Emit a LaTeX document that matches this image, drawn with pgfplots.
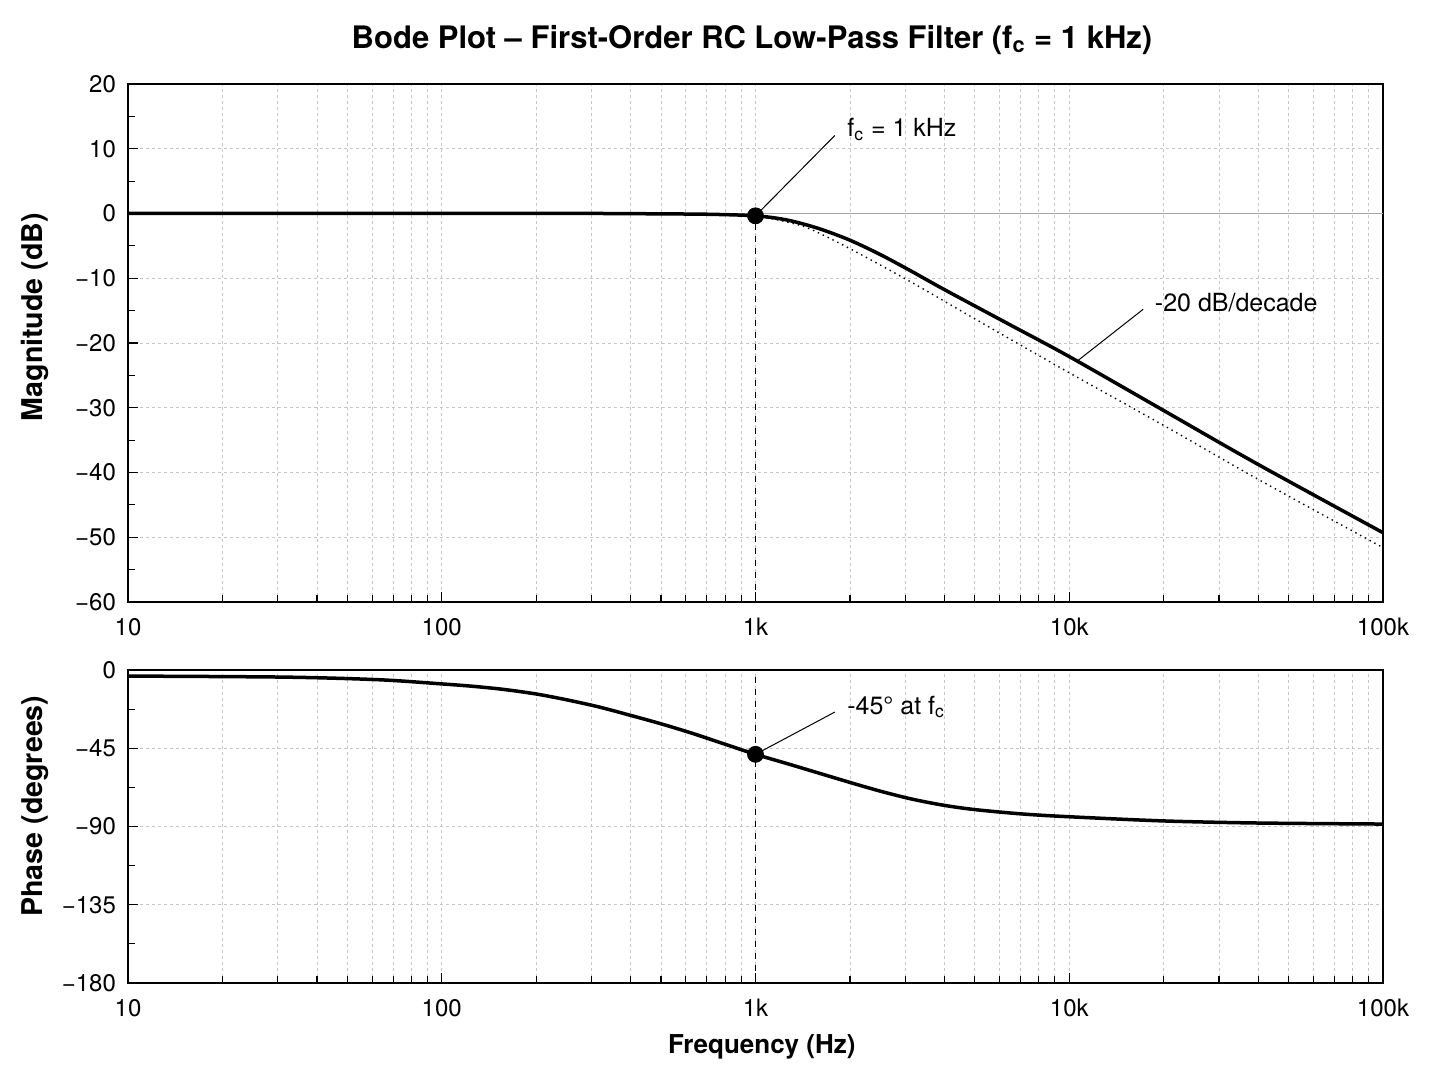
\documentclass[border=0pt]{standalone}
\usepackage{fontspec}
\setmainfont{TeX Gyre Heros}
\usepackage{pgfplots}
\pgfplotsset{compat=1.18}
\usepackage{pgfplotstable}

% magnitude
\pgfplotstableread{
f       mag
10      0
100     0
316     0
501     -0.06
708     -0.12
1000    -0.36
1259    -1.0
1585    -2.3
1995    -4.1
2512    -6.4
3162    -9.0
3981    -11.7
6310    -16.9
10000   -22.1
19953   -30.4
39811   -38.7
100000  -49.3
}\magdata

% dotted asymptote
\pgfplotstableread{
f       mag
1000    -0.36
1259    -1.3
1493    -2.4
1995    -5.4
3162    -10.7
5012    -16.3
10000   -24.6
19953   -32.7
39811   -41.0
100000  -51.6
}\asymdata

% phase
\pgfplotstableread{
f       ph
10      -3.5
31.6    -4.1
63      -5.6
100     -8.0
126     -9.4
158     -11.2
200     -13.8
251     -17.2
316     -21.2
398     -26.0
501     -31.0
631     -36.5
794     -42.5
1000    -48.5
1259    -53.8
1585    -59.2
1995    -64.6
2512    -69.8
3162    -74.3
3981    -77.8
5012    -80.3
7079    -82.8
10000   -84.4
19953   -86.8
39811   -88.0
100000  -88.6
}\phdata

\pgfplotsset{
  scale only axis, width=627.5pt,
  xmin=10, xmax=100000,
  xtick={10,100,1000,10000,100000},
  xticklabels={10,100,1k,10k,100k},
  minor xtick={20,30,40,50,60,70,80,90,200,300,400,500,600,700,800,900,
    2000,3000,4000,5000,6000,7000,8000,9000,20000,30000,40000,50000,60000,70000,80000,90000},
  tick align=inside, tick pos=left,
  major tick length=5pt, minor tick length=3.5pt,
  xmajorgrids, xminorgrids, ymajorgrids,
  grid style={gray!45, dash pattern=on 1.5pt off 1.5pt, line width=0.4pt},
  minor grid style={gray!45, dash pattern=on 1.5pt off 1.5pt, line width=0.4pt},
  axis line style={line width=0.8pt},
  every tick/.style={black, line width=0.6pt},
  tick label style={font=\fontsize{12}{14}\selectfont},
  xticklabel style={yshift=-4.5pt},
  yticklabel style={xshift=-2.5pt},
  xlabel style={font=\bfseries\fontsize{13}{15}\selectfont},
  ylabel style={font=\bfseries\fontsize{14.3}{16}\selectfont},
}
\tikzset{ann/.style={font=\fontsize{12.5}{14}\selectfont, anchor=west, inner sep=0pt}}

\begin{document}
\begin{tikzpicture}
\useasboundingbox (0,0) rectangle (724pt,543pt);
\node[font=\bfseries\fontsize{15.5}{18}\selectfont] at (376pt,523pt)
  {Bode Plot – First-Order RC Low-Pass Filter (f\textsubscript{c} = 1 kHz)};

\begin{semilogxaxis}[at={(64pt,242pt)}, anchor=south west, height=259pt,
  ymin=-60, ymax=20,
  ytick={-60,-50,-40,-30,-20,-10,0,10,20},
  yticklabels={−60,−50,−40,−30,−20,−10,0,10,20},
  minor ytick={-55,-45,-35,-25,-15,-5,5,15},
  ylabel={Magnitude (dB)},
  ylabel style={at={(axis description cs:-0.0741,0.55)}, anchor=center},
]
\addplot[gray!70, line width=0.5pt] coordinates {(10,0) (100000,0)};
\addplot[black, dashed, line width=0.6pt] coordinates {(1000,-60) (1000,-0.36)};
\addplot[black, dotted, line width=0.7pt, smooth] table[x=f, y=mag] {\asymdata};
\addplot[black, line width=1.75pt, smooth] table[x=f, y=mag] {\magdata};
\draw[line width=0.5pt] (axis cs:1000,-0.36) -- (axis cs:1790,12.05);
\node[ann] at (axis cs:1957,13) {f\textsubscript{c} = 1 kHz};
\draw[line width=0.5pt] (axis cs:10600,-22.8) -- (axis cs:17200,-14.8);
\node[ann] at (axis cs:18700,-13.7) {-20 dB/decade};
\addplot[only marks, mark=*, mark size=4pt, black] coordinates {(1000,-0.36)};
\end{semilogxaxis}

\begin{semilogxaxis}[at={(64pt,51.5pt)}, anchor=south west, height=156.5pt,
  ymin=-180, ymax=0,
  ytick={-180,-135,-90,-45,0},
  yticklabels={−180,−135,−90,−45,0},
  minor ytick={-157.5,-112.5,-67.5,-22.5},
  ylabel={Phase (degrees)},
  ylabel style={at={(axis description cs:-0.0741,0.565)}, anchor=center},
  xlabel={Frequency (Hz)},
  xlabel style={at={(axis description cs:0.505,-0.205)}, anchor=center},
]
\addplot[black, dashed, line width=0.6pt] coordinates {(1000,-180) (1000,0)};
\addplot[black, line width=1.75pt, smooth] table[x=f, y=ph] {\phdata};
\draw[line width=0.5pt] (axis cs:1000,-48.5) -- (axis cs:1790,-24.2);
\node[ann] at (axis cs:1957,-21.3) {-45° at f\textsubscript{c}};
\addplot[only marks, mark=*, mark size=4pt, black] coordinates {(1000,-48.5)};
\end{semilogxaxis}
\end{tikzpicture}
\end{document}
